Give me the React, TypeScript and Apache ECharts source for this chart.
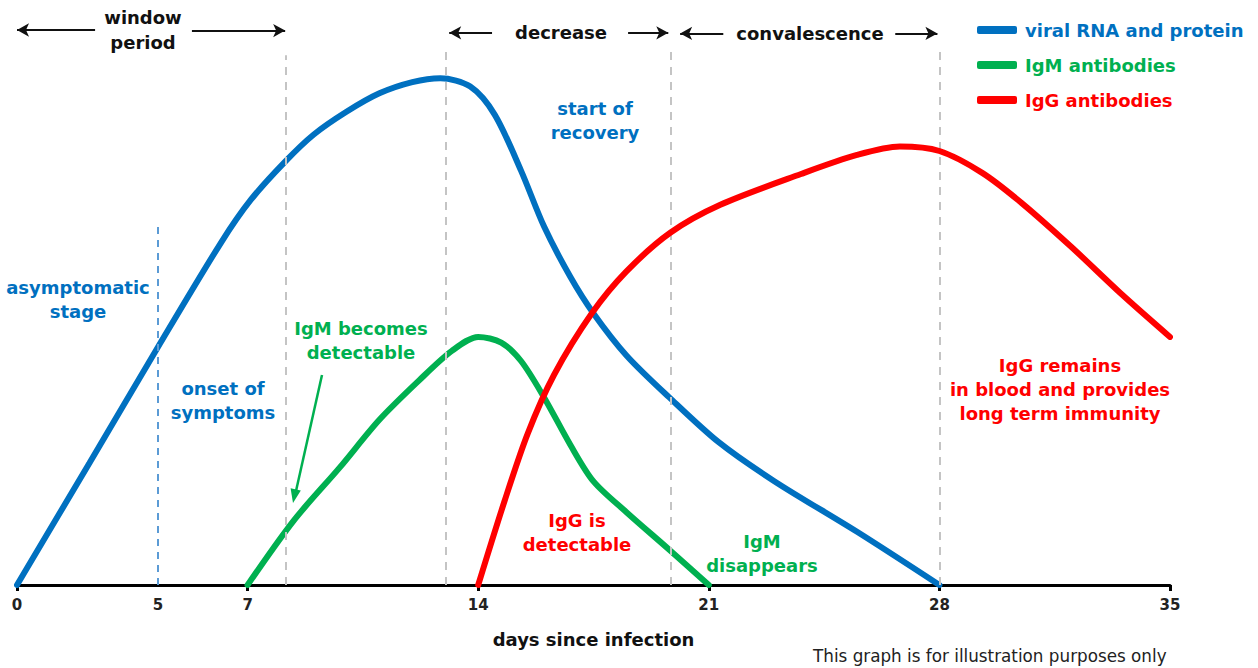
import React, { useEffect, useRef } from "react";
import * as echarts from "echarts";

// ---- data (x = days since infection, y = relative level 0-100) ----
const viralDays = [0, 2.2, 4.28, 6.2, 7.1, 8.14, 9.0, 10.0, 11.0, 12.0, 12.85, 13.76, 14.5, 15.3, 16.0, 16.8, 17.5, 18.5, 19.8, 21.3, 23.0, 25.5, 28];
const viralVals = [0, 21.8, 42.5, 61.2, 68.8, 75.6, 80.4, 84.5, 87.8, 89.8, 90.5, 89.0, 84.0, 74.0, 64.0, 55.0, 48.5, 41.0, 33.5, 25.5, 18.5, 9.5, 0];

const igmDays = [7, 8.4, 9.8, 11.0, 12.2, 13.2, 14.0, 14.7, 15.3, 16.0, 16.8, 17.5, 18.5, 19.8, 21];
const igmVals = [0, 11.5, 21.0, 29.5, 36.5, 41.8, 44.3, 43.3, 40.0, 33.5, 25.0, 18.5, 13.0, 6.3, 0];

const iggDays = [14.0, 14.8, 15.5, 16.3, 17.46, 18.5, 19.83, 21.35, 23.8, 25.5, 26.8, 28.0, 29.3, 30.5, 32.0, 33.5, 35];
const iggVals = [0, 15.0, 27.0, 37.5, 48.6, 56.0, 62.9, 67.9, 73.4, 76.8, 78.3, 77.5, 73.6, 68.2, 60.4, 52.1, 44.3];

const seriesNames = ["viral RNA and protein", "IgM antibodies", "IgG antibodies"];

// x-axis ticks (the "5" tick sits where the onset-of-symptoms line is drawn)
const tickDays = [0, 7, 14, 21, 28, 35];
const labelDays = [0, 4.28, 7, 14, 21, 28, 35];
const labelTexts = ["0", "5", "7", "14", "21", "28", "35"];

// phase boundaries (days) and their top heights
const phaseLines = [
  [8.15, 94.6],
  [13.0, 96.4],
  [19.85, 96.4],
  [28.0, 96.4],
];
const onsetLine = [4.28, 64.8];

// period arrows [fromDay, toDay, level, arrowAtStart]
const periodArrows = [
  [0, 2.37, 99.1, 1],
  [5.31, 8.14, 99.0, 0],
  [13.12, 14.42, 98.6, 1],
  [18.55, 19.77, 98.6, 0],
  [20.13, 21.44, 98.5, 1],
  [26.66, 27.94, 98.5, 0],
];

const BLUE = "#0070c0";
const GREEN = "#00b050";
const RED = "#ff0000";
const FONT = "DejaVu Sans";

const pairs = (xs: number[], ys: number[]) => xs.map((x, i) => [x, ys[i]]);

export default function App() {
  const ref = useRef<HTMLDivElement>(null);

  useEffect(() => {
    document.body.style.margin = "0";
    const chart = echarts.init(ref.current!, null, { renderer: "svg" });

    const txt = (text: string, x: number, y: number, color: string, size = 18, lh = 24, weight = "bold", align = "center") => ({
      type: "text",
      x,
      y,
      silent: true,
      style: {
        text,
        fill: color,
        font: `${weight} ${size}px "${FONT}"`,
        lineHeight: lh,
        textAlign: align,
        textVerticalAlign: "middle",
      },
    });

    const option: any = {
      animation: false,
      backgroundColor: "#ffffff",
      grid: { left: 17, right: 88, top: 25, bottom: 83, containLabel: false },
      xAxis: {
        type: "value",
        min: 0,
        max: 35,
        name: "days since infection",
        nameLocation: "middle",
        nameGap: 45,
        nameTextStyle: { fontFamily: FONT, fontWeight: "bold", fontSize: 18, color: "#111" },
        axisLine: { show: true, lineStyle: { color: "#000", width: 3 } },
        axisTick: { show: true, customValues: tickDays, length: 6, lineStyle: { color: "#000", width: 3 } },
        axisLabel: {
          show: true,
          customValues: labelDays,
          margin: 12,
          fontFamily: FONT,
          fontWeight: "bold",
          fontSize: 15,
          color: "#222",
          formatter: (v: number) => {
            const i = labelDays.findIndex((d) => Math.abs(d - v) < 0.001);
            return i >= 0 ? labelTexts[i] : "";
          },
        },
        splitLine: { show: false },
      },
      yAxis: { type: "value", min: 0, max: 100, show: false },
      legend: {
        orient: "vertical",
        left: 972,
        top: 15,
        itemWidth: 40,
        itemHeight: 8,
        itemGap: 15,
        icon: "roundRect",
        textStyle: { fontFamily: FONT, fontWeight: "bold", fontSize: 18, lineHeight: 20, padding: [0, 0, 0, 3] },
        data: [
          { name: seriesNames[0], textStyle: { color: BLUE } },
          { name: seriesNames[1], textStyle: { color: GREEN } },
          { name: seriesNames[2], textStyle: { color: RED } },
        ],
        selectedMode: false,
      },
      series: [
        {
          name: "guides",
          type: "line",
          data: [],
          silent: true,
          markLine: {
            silent: true,
            symbol: ["none", "none"],
            label: { show: false },
            data: [
              ...phaseLines.map(([d, top]) => [
                { coord: [d, 0], lineStyle: { color: "#c4c4c4", width: 2, type: [8, 7] } },
                { coord: [d, top] },
              ]),
              [
                { coord: [onsetLine[0], 0], lineStyle: { color: "#5b9bd5", width: 2, type: [7, 6] } },
                { coord: [onsetLine[0], onsetLine[1]] },
              ],
            ],
          },
        },
        {
          name: "arrows",
          type: "line",
          data: [],
          silent: true,
          markLine: {
            silent: true,
            symbolSize: [10, 12],
            label: { show: false },
            lineStyle: { color: "#111", width: 2, type: "solid" },
            data: periodArrows.map(([a, b, lvl, atStart]) => [
              { coord: [a, lvl], symbol: atStart ? "arrow" : "none" },
              { coord: [b, lvl], symbol: atStart ? "none" : "arrow" },
            ]),
          },
        },
        {
          name: seriesNames[0],
          type: "line",
          data: pairs(viralDays, viralVals),
          smooth: 0.3,
          symbol: "none",
          lineStyle: { color: BLUE, width: 6, cap: "round" },
          itemStyle: { color: BLUE },
          z: 3,
        },
        {
          name: seriesNames[1],
          type: "line",
          data: pairs(igmDays, igmVals),
          smooth: 0.3,
          symbol: "none",
          lineStyle: { color: GREEN, width: 6, cap: "round" },
          itemStyle: { color: GREEN },
          z: 4,
        },
        {
          name: seriesNames[2],
          type: "line",
          data: pairs(iggDays, iggVals),
          smooth: 0.3,
          symbol: "none",
          lineStyle: { color: RED, width: 6, cap: "round" },
          itemStyle: { color: RED },
          z: 5,
        },
      ],
      graphic: [
        txt("window\nperiod", 143, 30, "#111", 18, 25),
        txt("decrease", 561, 32, "#111"),
        txt("convalescence", 810, 33, "#111"),
        txt("asymptomatic\nstage", 78, 299, BLUE),
        txt("onset of\nsymptoms", 223, 400, BLUE),
        txt("start of\nrecovery", 595, 120, BLUE),
        txt("IgM becomes\ndetectable", 361, 340, GREEN),
        txt("IgG is\ndetectable", 577, 532, RED),
        txt("IgM\ndisappears", 762, 553, GREEN),
        txt("IgG remains\nin blood and provides\nlong term immunity", 1060, 389, RED),
        txt("This graph is for illustration purposes only", 813, 656, "#222", 16.8, 18, "normal", "left"),
        {
          type: "line",
          silent: true,
          shape: { x1: 322, y1: 375, x2: 296, y2: 491 },
          style: { stroke: GREEN, lineWidth: 2.5 },
        },
        {
          type: "polygon",
          silent: true,
          shape: { points: [[293, 503], [300.8, 490.5], [290.6, 488.2]] },
          style: { fill: GREEN },
        },
      ],
    };

    chart.setOption(option);
    return () => chart.dispose();
  }, []);

  return <div ref={ref} style={{ width: 1258, height: 668 }} />;
}
